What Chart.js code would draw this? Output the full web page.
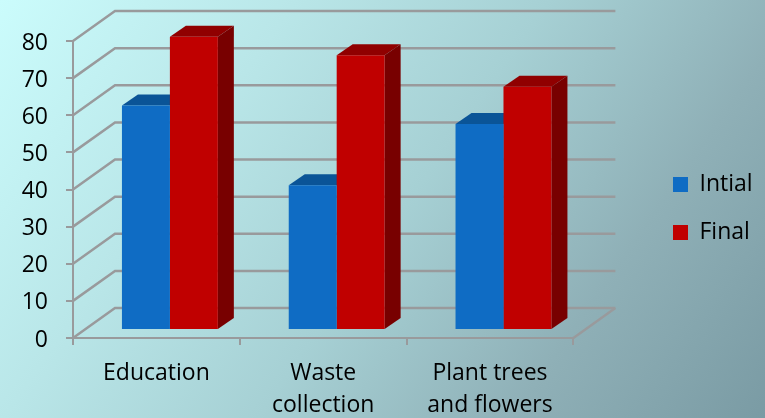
<!DOCTYPE html>
<html>
<head>
<meta charset="utf-8">
<style>
  html, body { margin: 0; padding: 0; }
  body {
    width: 765px; height: 418px; overflow: hidden;
    background: linear-gradient(125deg, #cbfcfc 0%, #b9e6e8 28%, #a6d0d4 52%, #8fb0b7 76%, #7a9ba4 100%);
  }
  canvas { display: block; }
</style>
<script src="https://cdn.jsdelivr.net/npm/chart.js@4/dist/chart.umd.js"></script>
</head>
<body>
<canvas id="chart" width="765" height="418"></canvas>
<script>
const categories = ["Education", ["Waste", "collection"], ["Plant trees", "and flowers"]];
const initialValues = [60.5, 39, 55.5];
const finalValues = [79, 74, 65.5];
const yMax = 80;
const yStep = 10;

const GRID_COLOR = "#999a9c";
const FONT = { family: "'Open Sans'", size: 23, lineHeight: 1.4 };

// fake 3D: how far the back wall and the bars are pushed away from the axes
const wallDepth = { x: 42, y: -30 };
const barOffset = { x: 13.5, y: -8 };
const barDepth = { x: 16, y: -11 };
const barShades = [
  { top: "#0a5497", side: "#0a5497" },
  { top: "#900000", side: "#780000" }
];

const fakeWalls = {
  id: "fakeWalls",
  beforeDatasetsDraw(chart) {
    const { ctx, chartArea, scales } = chart;
    ctx.save();
    ctx.strokeStyle = GRID_COLOR;
    ctx.lineWidth = 2.5;
    scales.y.ticks.forEach((tick, i) => {
      const y = scales.y.getPixelForTick(i);
      ctx.beginPath();
      ctx.moveTo(chartArea.left, y);
      ctx.lineTo(chartArea.left + wallDepth.x, y + wallDepth.y);
      ctx.lineTo(chartArea.right + wallDepth.x, y + wallDepth.y);
      ctx.stroke();
    });
    ctx.beginPath();
    ctx.moveTo(chartArea.right, chartArea.bottom);
    ctx.lineTo(chartArea.right + wallDepth.x, chartArea.bottom + wallDepth.y);
    ctx.stroke();
    ctx.restore();
  }
};

const fakeBars = {
  id: "fakeBars",
  beforeDatasetsDraw(chart) {
    const { ctx } = chart;
    ctx.save();
    ctx.translate(barOffset.x, barOffset.y);
    chart.data.datasets.forEach((ds, d) => {
      chart.getDatasetMeta(d).data.forEach((bar) => {
        const left = bar.x - bar.width / 2;
        const right = bar.x + bar.width / 2;
        ctx.fillStyle = barShades[d].top;
        ctx.beginPath();
        ctx.moveTo(left, bar.y);
        ctx.lineTo(left + barDepth.x, bar.y + barDepth.y);
        ctx.lineTo(right + barDepth.x, bar.y + barDepth.y);
        ctx.lineTo(right, bar.y);
        ctx.closePath();
        ctx.fill();
        ctx.fillStyle = barShades[d].side;
        ctx.beginPath();
        ctx.moveTo(right, bar.y);
        ctx.lineTo(right + barDepth.x, bar.y + barDepth.y);
        ctx.lineTo(right + barDepth.x, bar.base + barDepth.y);
        ctx.lineTo(right, bar.base);
        ctx.closePath();
        ctx.fill();
      });
    });
  },
  afterDatasetsDraw(chart) {
    chart.ctx.restore();
  }
};

// legend sits well away from the plot, further right than the layout puts it
const legendGap = {
  id: "legendGap",
  afterLayout(chart) {
    const { width, height } = chart.legend;
    chart.legend.left = 648;
    chart.legend.right = 648 + width;
    chart.legend.top = 20;
    chart.legend.bottom = 20 + height;
  }
};

new Chart(document.getElementById("chart"), {
  type: "bar",
  data: {
    labels: categories,
    datasets: [
      { label: "Intial", data: initialValues, backgroundColor: "#0f6cc4", clip: false },
      { label: "Final", data: finalValues, backgroundColor: "#c00000", clip: false }
    ]
  },
  plugins: [fakeWalls, fakeBars, legendGap],
  options: {
    responsive: false,
    animation: false,
    layout: { padding: { top: 41, right: 77, bottom: 0, left: 0 } },
    datasets: { bar: { categoryPercentage: 0.575, barPercentage: 1 } },
    plugins: {
      title: { display: false },
      tooltip: { enabled: false },
      legend: {
        position: "right",
        labels: { boxWidth: 15, boxHeight: 15, padding: 25, color: "#000", font: FONT }
      }
    },
    scales: {
      x: {
        afterFit: (scale) => { scale.height = 80; },
        border: { color: GRID_COLOR, width: 2 },
        grid: { drawOnChartArea: false, color: GRID_COLOR, lineWidth: 2, tickLength: 7 },
        ticks: { color: "#000", font: FONT, padding: 12, maxRotation: 0, autoSkip: false }
      },
      y: {
        min: 0,
        max: yMax,
        afterFit: (scale) => { scale.width = 73; },
        border: { color: GRID_COLOR, width: 2 },
        grid: { drawOnChartArea: false, color: GRID_COLOR, lineWidth: 2, tickLength: 7 },
        ticks: { color: "#000", font: FONT, padding: 18, stepSize: yStep, labelOffset: 2 }
      }
    }
  }
});
</script>
</body>
</html>
